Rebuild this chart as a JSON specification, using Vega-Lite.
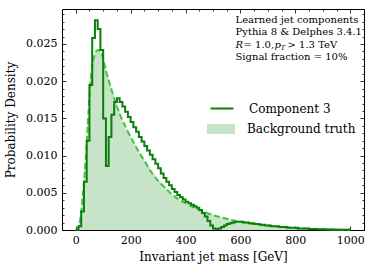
{
  "$schema": "https://vega.github.io/schema/vega-lite/v6.json",
  "width": 302,
  "height": 221,
  "autosize": {"type": "none"},
  "padding": {"left": 62, "top": 9, "right": 10, "bottom": 45},
  "config": {
    "view": {"stroke": "black", "strokeWidth": 1},
    "font": "DejaVu Serif",
    "axis": {
      "domain": false, "grid": false, "tickColor": "black", "tickWidth": 0.8,
      "labelFont": "DejaVu Serif", "labelFontSize": 11, "labelColor": "black",
      "titleFont": "DejaVu Serif", "titleFontSize": 12, "titleFontWeight": "normal", "titleColor": "black"
    },
    "legend": {"labelFont": "DejaVu Serif", "labelFontSize": 12, "labelColor": "black", "padding": 0}
  },
  "datasets": {
    "comp3": [
      {"m":0,"d":0.0},{"m":10,"d":0.0005},{"m":20,"d":0.0025},{"m":30,"d":0.0065},{"m":40,"d":0.012},{"m":50,"d":0.0195},{"m":60,"d":0.0258},{"m":70,"d":0.0282},{"m":80,"d":0.027},{"m":90,"d":0.0242},
      {"m":100,"d":0.015},{"m":110,"d":0.0086},{"m":120,"d":0.0125},{"m":130,"d":0.0155},{"m":140,"d":0.0172},{"m":150,"d":0.0177},{"m":160,"d":0.0172},{"m":170,"d":0.0166},{"m":180,"d":0.0159},{"m":190,"d":0.0152},
      {"m":200,"d":0.0145},{"m":210,"d":0.0138},{"m":220,"d":0.0132},{"m":230,"d":0.0125},{"m":240,"d":0.0119},{"m":250,"d":0.0113},{"m":260,"d":0.0107},{"m":270,"d":0.0101},{"m":280,"d":0.0095},{"m":290,"d":0.0089},
      {"m":300,"d":0.0083},{"m":310,"d":0.0076},{"m":320,"d":0.007},{"m":330,"d":0.0065},{"m":340,"d":0.006},{"m":350,"d":0.0055},{"m":360,"d":0.0051},{"m":370,"d":0.0047},{"m":380,"d":0.0044},{"m":390,"d":0.0041},
      {"m":400,"d":0.0038},{"m":410,"d":0.0036},{"m":420,"d":0.0034},{"m":430,"d":0.0032},{"m":440,"d":0.003},{"m":450,"d":0.0027},{"m":460,"d":0.0023},{"m":470,"d":0.0018},{"m":480,"d":0.0012},{"m":490,"d":0.0006},
      {"m":500,"d":0.0002},{"m":510,"d":0.0001},{"m":520,"d":0.0002},{"m":530,"d":0.0004},{"m":540,"d":0.0006},{"m":550,"d":0.0008},{"m":560,"d":0.0009},{"m":570,"d":0.001},{"m":580,"d":0.0011},{"m":590,"d":0.0011},
      {"m":600,"d":0.0011},{"m":610,"d":0.001},{"m":620,"d":0.001},{"m":630,"d":0.0009},{"m":640,"d":0.0009},{"m":650,"d":0.0008},{"m":660,"d":0.0008},{"m":670,"d":0.0007},{"m":680,"d":0.0007},{"m":690,"d":0.0006},
      {"m":700,"d":0.0006},{"m":710,"d":0.0005},{"m":720,"d":0.0005},{"m":730,"d":0.0005},{"m":740,"d":0.0004},{"m":750,"d":0.0004},{"m":760,"d":0.0004},{"m":770,"d":0.0003},{"m":780,"d":0.0003},{"m":790,"d":0.0003},
      {"m":800,"d":0.0003},{"m":810,"d":0.0002},{"m":820,"d":0.0002},{"m":830,"d":0.0002},{"m":840,"d":0.0002},{"m":850,"d":0.00015},{"m":860,"d":0.00015},{"m":870,"d":0.00012},{"m":880,"d":0.0001},{"m":890,"d":0.0001},
      {"m":900,"d":0.0001},{"m":910,"d":0.00008},{"m":920,"d":0.00007},{"m":930,"d":0.00006},{"m":940,"d":0.00005},{"m":950,"d":0.00005},{"m":960,"d":0.00004},{"m":970,"d":0.00004},{"m":980,"d":0.00003},{"m":990,"d":0.00003},{"m":1000,"d":0.00003}
    ],
    "bkg": [
      {"m":0,"d":0.0001},{"m":10,"d":0.0012},{"m":20,"d":0.0043},{"m":30,"d":0.009},{"m":40,"d":0.0148},{"m":50,"d":0.0202},{"m":60,"d":0.023},{"m":70,"d":0.024},{"m":80,"d":0.0242},{"m":90,"d":0.0236},
      {"m":100,"d":0.0222},{"m":110,"d":0.0208},{"m":120,"d":0.0195},{"m":130,"d":0.0183},{"m":140,"d":0.0172},{"m":150,"d":0.0161},{"m":160,"d":0.0152},{"m":170,"d":0.0144},{"m":180,"d":0.0136},{"m":190,"d":0.0129},
      {"m":200,"d":0.0122},{"m":210,"d":0.0115},{"m":220,"d":0.0109},{"m":230,"d":0.0103},{"m":240,"d":0.0097},{"m":250,"d":0.0091},{"m":260,"d":0.0085},{"m":270,"d":0.008},{"m":280,"d":0.0075},{"m":290,"d":0.007},
      {"m":300,"d":0.0066},{"m":310,"d":0.0062},{"m":320,"d":0.0058},{"m":330,"d":0.0054},{"m":340,"d":0.005},{"m":350,"d":0.0047},{"m":360,"d":0.0044},{"m":370,"d":0.0041},{"m":380,"d":0.0039},{"m":390,"d":0.0037},
      {"m":400,"d":0.0035},{"m":410,"d":0.0033},{"m":420,"d":0.0031},{"m":430,"d":0.0029},{"m":440,"d":0.0028},{"m":450,"d":0.0026},{"m":460,"d":0.0025},{"m":470,"d":0.0023},{"m":480,"d":0.0022},{"m":490,"d":0.0021},
      {"m":500,"d":0.0019},{"m":510,"d":0.0018},{"m":520,"d":0.0017},{"m":530,"d":0.0016},{"m":540,"d":0.0015},{"m":550,"d":0.0014},{"m":560,"d":0.0013},{"m":570,"d":0.0012},{"m":580,"d":0.0012},{"m":590,"d":0.0011},
      {"m":600,"d":0.001},{"m":610,"d":0.001},{"m":620,"d":0.0009},{"m":630,"d":0.0009},{"m":640,"d":0.0008},{"m":650,"d":0.0008},{"m":660,"d":0.0007},{"m":670,"d":0.0007},{"m":680,"d":0.0006},{"m":690,"d":0.0006},
      {"m":700,"d":0.0006},{"m":710,"d":0.0005},{"m":720,"d":0.0005},{"m":730,"d":0.0004},{"m":740,"d":0.0004},{"m":750,"d":0.0004},{"m":760,"d":0.0003},{"m":770,"d":0.0003},{"m":780,"d":0.0003},{"m":790,"d":0.0003},
      {"m":800,"d":0.00025},{"m":810,"d":0.00022},{"m":820,"d":0.0002},{"m":830,"d":0.00018},{"m":840,"d":0.00016},{"m":850,"d":0.00015},{"m":860,"d":0.00013},{"m":870,"d":0.00012},{"m":880,"d":0.00011},{"m":890,"d":0.0001},
      {"m":900,"d":0.00009},{"m":910,"d":0.00008},{"m":920,"d":0.00007},{"m":930,"d":0.00006},{"m":940,"d":0.00005},{"m":950,"d":0.00005},{"m":960,"d":0.00004},{"m":970,"d":0.00003},{"m":980,"d":0.00003},{"m":990,"d":0.00002},{"m":1000,"d":0.00002}
    ],
    "fit": [
      {"m":0,"d":0.0},{"m":10,"d":0.0003},{"m":20,"d":0.0025},{"m":30,"d":0.0065},{"m":40,"d":0.0115},{"m":50,"d":0.018},{"m":60,"d":0.022},{"m":70,"d":0.0236},{"m":80,"d":0.0242},{"m":90,"d":0.024},
      {"m":100,"d":0.023},{"m":110,"d":0.0214},{"m":120,"d":0.0201},{"m":130,"d":0.0189},{"m":140,"d":0.0177},{"m":150,"d":0.0166},{"m":160,"d":0.0156},{"m":170,"d":0.0147},{"m":180,"d":0.014},{"m":190,"d":0.0132},
      {"m":200,"d":0.0125},{"m":225,"d":0.0108},{"m":250,"d":0.0093},{"m":275,"d":0.0078},{"m":300,"d":0.0066},{"m":325,"d":0.0057},{"m":350,"d":0.0048},{"m":375,"d":0.0041},{"m":400,"d":0.0036},{"m":450,"d":0.0027},
      {"m":500,"d":0.002},{"m":550,"d":0.0015},{"m":600,"d":0.0011},{"m":650,"d":0.0008},{"m":700,"d":0.0006},{"m":750,"d":0.0004},{"m":800,"d":0.00025},{"m":850,"d":0.00016},{"m":900,"d":0.0001},{"m":950,"d":0.00005},{"m":1000,"d":0.00002}
    ],
    "notes": [
      {"line": ["Learned jet components", "Pythia 8 & Delphes 3.4.1"]}
    ],
    "sig": [{"t": "Signal fraction = 10%"}],
    "italic": [{"t": "R"}],
    "italic2": [{"t": "p"}],
    "sub": [{"t": "T"}],
    "eq": [{"t": "= 1.0,"}],
    "gt": [{"t": "> 1.3 TeV"}]
  },
  "layer": [
    {
      "data": {"name": "bkg"},
      "mark": {"type": "area", "interpolate": "step-after"},
      "encoding": {
        "x": {"field": "m", "type": "quantitative", "scale": {"domain": [-50, 1050], "nice": false, "zero": false},
              "axis": {"orient": "bottom", "values": [0,200,400,600,800,1000], "format": "d", "tickSize": -4, "labelPadding": 8, "title": "Invariant jet mass [GeV]", "titlePadding": 6}},
        "y": {"field": "d", "type": "quantitative", "scale": {"domain": [0, 0.0297], "nice": false},
              "axis": {"orient": "left", "values": [0,0.005,0.01,0.015,0.02,0.025], "format": ".3f", "tickSize": -4, "labelPadding": 9, "title": "Probability Density", "titlePadding": 8}},
        "fill": {"datum": "Background truth", "type": "nominal",
                 "scale": {"domain": ["Background truth"], "range": ["#c8e4c8"]},
                 "legend": {"title": null, "orient": "none", "legendX": 145, "legendY": 106, "symbolType": "M-1,-0.36H1V0.36H-1Z", "symbolSize": 784, "symbolOpacity": 1, "symbolStrokeWidth": 0, "labelOffset": 12}}
      }
    },
    {
      "data": {"name": "fit"},
      "mark": {"type": "line", "interpolate": "monotone", "color": "#3cc83c", "strokeWidth": 2, "strokeDash": [6, 3]},
      "encoding": {
        "x": {"field": "m", "type": "quantitative", "axis": {"orient": "bottom", "values": [50,100,150,250,300,350,450,500,550,650,700,750,850,900,950,1050], "tickSize": -2, "labels": false, "title": null}},
        "y": {"field": "d", "type": "quantitative", "axis": {"orient": "left", "values": [0.001,0.002,0.003,0.004,0.006,0.007,0.008,0.009,0.011,0.012,0.013,0.014,0.016,0.017,0.018,0.019,0.021,0.022,0.023,0.024,0.026,0.027,0.028,0.029], "tickSize": -2, "labels": false, "title": null}}
      }
    },
    {
      "data": {"name": "comp3"},
      "mark": {"type": "line", "interpolate": "step-after", "strokeWidth": 2},
      "encoding": {
        "x": {"field": "m", "type": "quantitative", "axis": {"orient": "top", "values": [0,200,400,600,800,1000], "tickSize": -4, "labels": false, "title": null}},
        "y": {"field": "d", "type": "quantitative", "axis": {"orient": "right", "values": [0,0.005,0.01,0.015,0.02,0.025], "tickSize": -4, "labels": false, "title": null}},
        "stroke": {"datum": "Component 3", "type": "nominal",
                   "scale": {"domain": ["Component 3"], "range": ["#0a7f0a"]},
                   "legend": {"title": null, "orient": "none", "legendX": 147.5, "legendY": 87, "symbolType": "stroke", "symbolSize": 529, "symbolStrokeWidth": 2, "labelOffset": 14.5}}
      }
    },
    {
      "data": {"name": "notes"},
      "mark": {"type": "text", "align": "left", "baseline": "alphabetic", "fontSize": 10, "lineHeight": 12.3, "font": "DejaVu Serif", "color": "black"},
      "encoding": {
        "text": {"field": "line"},
        "x": {"datum": 582, "type": "quantitative", "axis": {"orient": "top", "values": [50,100,150,250,300,350,450,500,550,650,700,750,850,900,950,1050], "tickSize": -2, "labels": false, "title": null}},
        "y": {"datum": 0.0278, "type": "quantitative", "axis": {"orient": "right", "values": [0.001,0.002,0.003,0.004,0.006,0.007,0.008,0.009,0.011,0.012,0.013,0.014,0.016,0.017,0.018,0.019,0.021,0.022,0.023,0.024,0.026,0.027,0.028,0.029], "tickSize": -2, "labels": false, "title": null}}
      }
    },
    {
      "data": {"name": "sig"},
      "mark": {"type": "text", "align": "left", "baseline": "alphabetic", "fontSize": 10, "font": "DejaVu Serif", "color": "black"},
      "encoding": {"text": {"field": "t"}, "x": {"datum": 582, "type": "quantitative", "axis": null}, "y": {"datum": 0.02285, "type": "quantitative", "axis": null}}
    },
    {
      "data": {"name": "italic"},
      "mark": {"type": "text", "align": "left", "baseline": "alphabetic", "fontSize": 10, "fontStyle": "italic", "font": "DejaVu Serif", "color": "black"},
      "encoding": {"text": {"field": "t"}, "x": {"datum": 582, "type": "quantitative", "axis": null}, "y": {"datum": 0.02452, "type": "quantitative", "axis": null}}
    },
    {
      "data": {"name": "eq"},
      "mark": {"type": "text", "align": "left", "baseline": "alphabetic", "fontSize": 10, "font": "DejaVu Serif", "color": "black", "dx": 8},
      "encoding": {"text": {"field": "t"}, "x": {"datum": 582, "type": "quantitative", "axis": null}, "y": {"datum": 0.02452, "type": "quantitative", "axis": null}}
    },
    {
      "data": {"name": "italic2"},
      "mark": {"type": "text", "align": "left", "baseline": "alphabetic", "fontSize": 10, "fontStyle": "italic", "font": "DejaVu Serif", "color": "black", "dx": 39},
      "encoding": {"text": {"field": "t"}, "x": {"datum": 582, "type": "quantitative", "axis": null}, "y": {"datum": 0.02452, "type": "quantitative", "axis": null}}
    },
    {
      "data": {"name": "sub"},
      "mark": {"type": "text", "align": "left", "baseline": "alphabetic", "fontSize": 7, "fontStyle": "italic", "font": "DejaVu Serif", "color": "black", "dx": 45, "dy": 2.5},
      "encoding": {"text": {"field": "t"}, "x": {"datum": 582, "type": "quantitative", "axis": null}, "y": {"datum": 0.02452, "type": "quantitative", "axis": null}}
    },
    {
      "data": {"name": "gt"},
      "mark": {"type": "text", "align": "left", "baseline": "alphabetic", "fontSize": 10, "font": "DejaVu Serif", "color": "black", "dx": 52},
      "encoding": {"text": {"field": "t"}, "x": {"datum": 582, "type": "quantitative", "axis": null}, "y": {"datum": 0.02452, "type": "quantitative", "axis": null}}
    }
  ],
  "resolve": {"axis": {"x": "independent", "y": "independent"}}
}
